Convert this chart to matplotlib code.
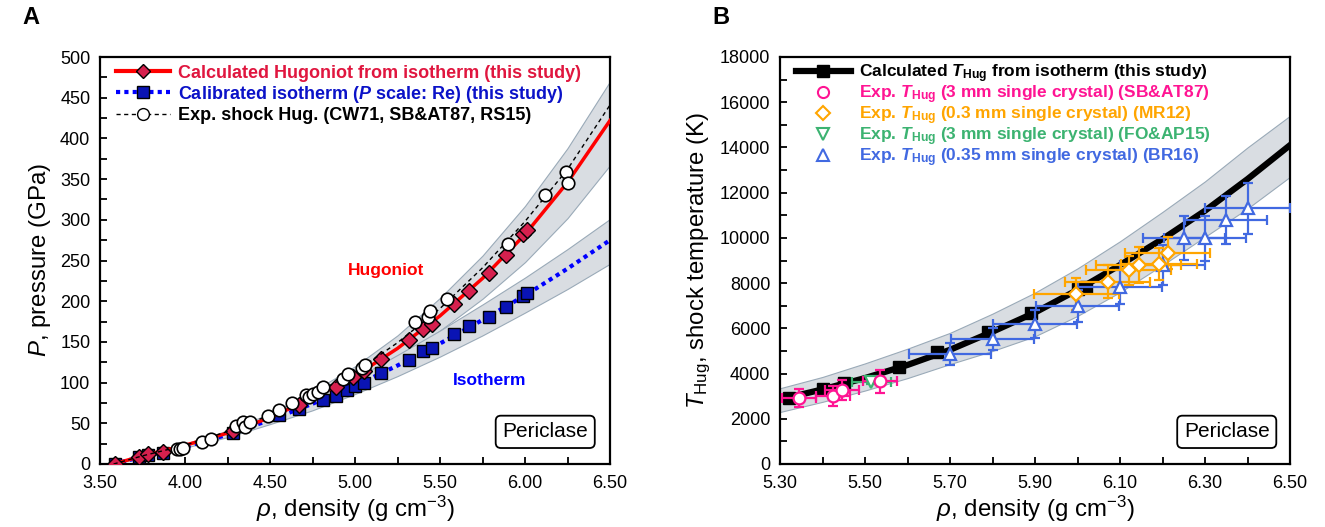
import numpy as np
import matplotlib
matplotlib.use("Agg")
import matplotlib.pyplot as plt
from matplotlib.lines import Line2D
from matplotlib.ticker import MultipleLocator, FixedLocator, FormatStrFormatter

plt.rcParams['font.family'] = ['Liberation Sans', 'DejaVu Sans']
plt.rcParams['mathtext.fontset'] = 'custom'
plt.rcParams['mathtext.rm'] = 'Liberation Sans'
plt.rcParams['mathtext.it'] = 'Liberation Sans:italic'
plt.rcParams['mathtext.bf'] = 'Liberation Sans:bold'
try:
    plt.rcParams['mathtext.bfit'] = 'Liberation Sans:bold:italic'
except KeyError:
    pass

# ---- panel A data ----
hug_rho = [3.59, 3.73, 3.78, 3.87, 4.28, 4.67, 4.89, 4.99, 5.05, 5.15, 5.32, 5.40, 5.45,
           5.58, 5.67, 5.79, 5.89, 5.99, 6.01]
hug_p = [0, 9, 12, 15, 40, 72, 94, 107, 114, 129, 152, 166, 172, 197, 213, 235, 257, 282, 288]

iso_rho = [3.59, 3.73, 3.78, 3.87, 4.28, 4.55, 4.67, 4.81, 4.89, 4.95, 5.00, 5.05, 5.15,
           5.32, 5.40, 5.45, 5.58, 5.67, 5.79, 5.89, 5.99, 6.01]
iso_p = [0, 8, 11, 14, 38, 60, 67, 79, 83, 91, 96, 100, 112, 128, 139, 142, 160, 169,
         181, 193, 206, 210]

shock_rho = [3.95, 3.97, 3.99, 4.10, 4.15, 4.30, 4.34, 4.35, 4.38, 4.49, 4.55, 4.63, 4.71,
             4.73, 4.75, 4.78, 4.81, 4.93, 4.96, 5.04, 5.06, 5.35, 5.43, 5.44, 5.54, 5.90,
             6.12, 6.24, 6.25]
shock_p = [18, 19, 20, 27, 31, 47, 51, 45, 51, 59, 66, 75, 85, 82, 86, 89, 94, 105, 110,
           118, 122, 174, 181, 188, 203, 270, 331, 359, 345]

curve_rho = [3.58, 3.75, 4.00, 4.25, 4.50, 4.75, 5.00, 5.25, 5.50, 5.75, 6.00, 6.25, 6.50]
hug_fit = [0, 10, 23, 38, 57, 81, 108, 142, 182, 228, 282, 346, 422]
iso_fit = [0, 9, 21, 36, 54, 74, 96, 121, 148, 177, 207, 240, 275]
shock_fit = [0, 10, 23, 40, 60, 85, 113, 149, 191, 241, 298, 362, 441]
hug_lo = [0, 9, 22, 36, 53, 74, 99, 129, 164, 203, 248, 302, 367]
hug_hi = [0, 11, 25, 41, 62, 89, 120, 158, 204, 256, 317, 388, 470]
iso_lo = [0, 8, 20, 33, 49, 66, 86, 108, 132, 158, 186, 215, 246]
iso_hi = [0, 10, 22, 39, 58, 80, 105, 134, 164, 196, 229, 264, 301]

# ---- panel B data ----
t_rho = [5.30, 5.40, 5.50, 5.60, 5.70, 5.80, 5.90, 6.00, 6.10, 6.20, 6.30, 6.40, 6.50]
t_fit = [2850, 3300, 3800, 4380, 5050, 5850, 6700, 7700, 8800, 9950, 11200, 12600, 14100]
t_lo = [2300, 2750, 3250, 3800, 4420, 5000, 5650, 6550, 7600, 8800, 10050, 11300, 12700]
t_hi = [3350, 3850, 4450, 5100, 5800, 6650, 7580, 8650, 9850, 11150, 12500, 14000, 15400]
t_sq_rho = [5.32, 5.40, 5.45, 5.58, 5.67, 5.79, 5.89, 6.00, 6.02]
t_sq = [2900, 3300, 3580, 4310, 4970, 5850, 6690, 7760, 7850]

sb_rho = [5.345, 5.425, 5.445, 5.535]
sb_t = [2900, 3020, 3260, 3650]
sb_xerr = [0.04, 0.04, 0.04, 0.04]
sb_yerr = [400, 450, 440, 490]

fo_rho = [5.515]
fo_t = [3630]
fo_xerr = [0.045]
fo_yerr = [100]

mr_rho = [5.997, 6.071, 6.120, 6.144, 6.192, 6.212]
mr_t = [7520, 8070, 8570, 8790, 8850, 9330]
mr_xerr = [0.1, 0.1, 0.1, 0.1, 0.09, 0.1]
mr_yerr = [700, 740, 650, 800, 700, 720]

br_rho = [5.70, 5.80, 5.90, 6.00, 6.10, 6.20, 6.25, 6.30, 6.35, 6.40]
br_t = [4870, 5530, 6190, 6980, 7820, 8790, 9990, 9980, 10790, 11310]
br_xerr = [0.097, 0.097, 0.098, 0.097, 0.098, 0.1, 0.097, 0.097, 0.097, 0.1]
br_yerr = [480, 500, 600, 700, 740, 880, 980, 980, 1080, 1120]

xticks_b = [5.30, 5.50, 5.70, 5.90, 6.10, 6.30, 6.50]

band_face = '#D9DDE2'
band_edge = '#9AAAB8'

fig = plt.figure(figsize=(13.25, 5.27), dpi=100)
ax1 = fig.add_axes([100/1325, 63/527, 510/1325, 407/527])
ax2 = fig.add_axes([780/1325, 63/527, 510/1325, 407/527])

for ax in (ax1, ax2):
    ax.tick_params(which='both', direction='in', width=1.3, labelsize=13)
    ax.tick_params(axis='x', pad=8)
    ax.tick_params(axis='y', pad=7)
    ax.tick_params(which='major', length=5)
    ax.tick_params(which='minor', length=5)
    for sp in ax.spines.values():
        sp.set_linewidth(1.6)

# ---- panel A ----
ax1.fill_between(curve_rho, hug_lo, hug_hi, facecolor=band_face, edgecolor=band_edge, lw=0.8, zorder=1)
ax1.fill_between(curve_rho, iso_lo, iso_hi, facecolor=band_face, edgecolor=band_edge, lw=0.8, zorder=1)
ax1.plot(curve_rho, iso_fit, color='#0000FF', lw=3, ls=(0, (1, 1)), zorder=2)
ax1.plot(iso_rho, iso_p, ls='none', marker='s', ms=8.5, mfc='#0A14B4', mec='black', mew=1, zorder=3)
ax1.plot(curve_rho, hug_fit, color='#FF0000', lw=2.5, zorder=4)
ax1.plot(hug_rho, hug_p, ls='none', marker='D', ms=8.5, mfc='#D6204E', mec='black', mew=1, zorder=5)
ax1.plot(curve_rho, shock_fit, color='black', lw=1, ls=(0, (3, 2.5)), zorder=6)
ax1.plot(shock_rho, shock_p, ls='none', marker='o', ms=9, mfc='white', mec='black', mew=1.2, zorder=7)

ax1.set_xlim(3.5, 6.5)
ax1.set_ylim(0, 500)
ax1.xaxis.set_major_locator(MultipleLocator(0.5))
ax1.xaxis.set_minor_locator(MultipleLocator(0.25))
ax1.yaxis.set_major_locator(MultipleLocator(50))
ax1.yaxis.set_minor_locator(MultipleLocator(25))
ax1.xaxis.set_major_formatter(FormatStrFormatter('%.2f'))
ax1.set_xlabel(r'$\rho$, density (g cm$^{-3}$)', fontsize=17.3, labelpad=1)
ax1.set_ylabel(r'$P$, pressure (GPa)', fontsize=17.3, labelpad=5)

ax1.text(5.18, 238, 'Hugoniot', color='#FF0000', fontsize=12.5, fontweight='bold', ha='center', va='center')
ax1.text(5.79, 102, 'Isotherm', color='#0000FF', fontsize=12.5, fontweight='bold', ha='center', va='center')

h1 = [Line2D([], [], color='#FF0000', lw=3, marker='D', ms=7.5, mfc='#D6204E', mec='black'),
      Line2D([], [], color='#0000FF', lw=3, ls=(0, (1, 1)), marker='s', ms=8.5, mfc='#0A14B4', mec='black'),
      Line2D([], [], color='black', lw=1, ls=(0, (3, 2.5)), marker='o', ms=8.5, mfc='white', mec='black')]
l1 = ['Calculated Hugoniot from isotherm (this study)',
      r'Calibrated isotherm ($\mathbfit{P}$ scale: Re) (this study)',
      'Exp. shock Hug. (CW71, SB&AT87, RS15)']
leg1 = ax1.legend(h1, l1, loc='upper left', bbox_to_anchor=(0.01, 1.008), frameon=False,
                  prop={'weight': 'bold', 'size': 13}, handlelength=3.0, handletextpad=0.45,
                  labelspacing=0.12, borderaxespad=0.2)
for t, c in zip(leg1.get_texts(), ['#E0163F', '#0B12C8', 'black']):
    t.set_color(c)

ax1.text(0.873, 0.079, 'Periclase', transform=ax1.transAxes, fontsize=15, ha='center', va='center',
         bbox=dict(boxstyle='round,pad=0.32,rounding_size=0.25', fc='white', ec='black', lw=1.3))

# ---- panel B ----
ax2.fill_between(t_rho, t_lo, t_hi, facecolor=band_face, edgecolor=band_edge, lw=0.8, zorder=1)
ax2.plot(t_rho, t_fit, color='black', lw=4.5, zorder=2)
ax2.plot(t_sq_rho, t_sq, ls='none', marker='s', ms=8, mfc='black', mec='black', zorder=2)

err_kw = dict(ls='none', elinewidth=1.6, capsize=3.5, capthick=1.8, ms=8.5, mfc='white', mew=1.6, zorder=4)
ax2.errorbar(br_rho, br_t, xerr=br_xerr, yerr=br_yerr, marker='^', color='#4169E1', mec='#4169E1', **err_kw)
ax2.errorbar(mr_rho, mr_t, xerr=mr_xerr, yerr=mr_yerr, marker='D', color='#FFA500', mec='#FFA500',
             **{**err_kw, 'ms': 7.5})
ax2.errorbar(fo_rho, fo_t, xerr=fo_xerr, yerr=fo_yerr, marker='v', color='#3CB371', mec='#3CB371', **err_kw)
ax2.errorbar(sb_rho, sb_t, xerr=sb_xerr, yerr=sb_yerr, marker='o', color='#FF1493', mec='#FF1493', **err_kw)

ax2.set_xlim(5.3, 6.5)
ax2.set_ylim(0, 18000)
ax2.xaxis.set_major_locator(FixedLocator(xticks_b))
ax2.xaxis.set_minor_locator(MultipleLocator(0.1))
ax2.yaxis.set_major_locator(MultipleLocator(2000))
ax2.yaxis.set_minor_locator(MultipleLocator(1000))
ax2.xaxis.set_major_formatter(FormatStrFormatter('%.2f'))
ax2.set_xlabel(r'$\rho$, density (g cm$^{-3}$)', fontsize=17.3, labelpad=1)
ax2.set_ylabel(r'$T_{\rm Hug}$, shock temperature (K)', fontsize=17.3, labelpad=5)

h2 = [Line2D([], [], color='black', lw=4.5, marker='s', ms=8),
      Line2D([], [], ls='none', marker='o', ms=8, mfc='white', mec='#FF1493', mew=1.5),
      Line2D([], [], ls='none', marker='D', ms=7, mfc='white', mec='#FFA500', mew=1.5),
      Line2D([], [], ls='none', marker='v', ms=8, mfc='white', mec='#3CB371', mew=1.5),
      Line2D([], [], ls='none', marker='^', ms=8, mfc='white', mec='#4169E1', mew=1.5)]
l2 = [r'Calculated $\mathbfit{T}_{\mathbf{Hug}}$ from isotherm (this study)',
      r'Exp. $\mathbfit{T}_{\mathbf{Hug}}$ (3 mm single crystal) (SB&AT87)',
      r'Exp. $\mathbfit{T}_{\mathbf{Hug}}$ (0.3 mm single crystal) (MR12)',
      r'Exp. $\mathbfit{T}_{\mathbf{Hug}}$ (3 mm single crystal) (FO&AP15)',
      r'Exp. $\mathbfit{T}_{\mathbf{Hug}}$ (0.35 mm single crystal) (BR16)']
leg2 = ax2.legend(h2, l2, loc='upper left', bbox_to_anchor=(0.01, 1.012), frameon=False,
                  prop={'weight': 'bold', 'size': 12.5}, handlelength=3.2, handletextpad=0.45,
                  labelspacing=-0.1, borderaxespad=0.2)
for t, c in zip(leg2.get_texts(), ['black', '#FF1493', '#FFA500', '#3CB371', '#4169E1']):
    t.set_color(c)

ax2.text(0.876, 0.079, 'Periclase', transform=ax2.transAxes, fontsize=15, ha='center', va='center',
         bbox=dict(boxstyle='round,pad=0.32,rounding_size=0.25', fc='white', ec='black', lw=1.3))

fig.text(22/1325, 1 - 17/527, 'A', fontsize=17, fontweight='bold', ha='left', va='center')
fig.text(712/1325, 1 - 17/527, 'B', fontsize=17, fontweight='bold', ha='left', va='center')

fig.savefig('out.png', dpi=100)
